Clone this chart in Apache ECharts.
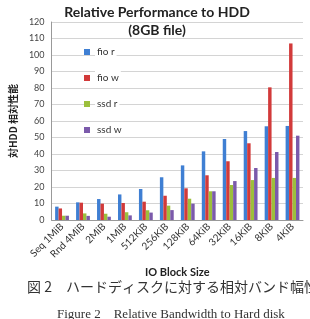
<!DOCTYPE html>
<html><head><meta charset="utf-8">
<script src="https://cdn.jsdelivr.net/npm/echarts@6/dist/echarts.min.js"></script>
<style>html,body{margin:0;padding:0;background:#fff}#c{width:310px;height:319px}</style>
</head><body><div id="c"></div>
<script>
const categories = ['Seq 1MiB','Rnd 4MiB','2MiB','1MiB','512KiB','256KiB','128KiB','64KiB','32KiB','16KiB','8KiB','4KiB'];
const fioR = [8.1, 10.7, 12.7, 15.5, 18.8, 25.9, 33.1, 41.6, 49.1, 53.9, 56.8, 57.0];
const fioW = [7.0, 10.5, 9.9, 10.3, 11.1, 14.7, 19.2, 27.1, 35.6, 46.5, 80.4, 107.0];
const ssdR = [2.6, 4.0, 3.8, 4.7, 5.9, 8.7, 12.9, 17.4, 21.2, 24.2, 25.5, 25.5];
const ssdW = [2.6, 2.5, 2.0, 2.8, 4.5, 6.0, 9.9, 17.4, 23.6, 31.5, 41.2, 51.1];
const yTicks = [0, 120, 10];
const seriesNames = ['fio r','fio w','ssd r','ssd w'];
const colors = ['#3f7fd3','#d23a3a','#9cbf3c','#7b5aab'];

const chart = echarts.init(document.getElementById('c'), null, {renderer:'canvas'});
const data = [fioR, fioW, ssdR, ssdW];
chart.setOption({
  animation:false,
  color: colors,
  textStyle:{fontFamily:'Lato, "Noto Sans CJK JP"'},
  title:{
    text:'Relative Performance to HDD\n(8GB file)',
    left:152, top:-2, textAlign:'center',
    textStyle:{fontSize:14, fontWeight:'bold', color:'#222', lineHeight:18, fontFamily:'Lato'}
  },
  legend:{
    orient:'vertical', left:79, top:40, itemWidth:6, itemHeight:6, itemGap:12,
    icon:'rect',
    textStyle:{fontSize:10, color:'#333', backgroundColor:'#fff', padding:[2,2]},
    data: seriesNames
  },
  grid:{left:42, right:7, top:22, bottom:99},
  xAxis:{
    type:'category', data:categories,
    axisLine:{lineStyle:{color:'#999'}},
    axisTick:{show:false},
    axisLabel:{rotate:45, fontSize:10, color:'#333', margin:5, interval:0},
    name:'IO Block Size', nameLocation:'middle', nameGap:45,
    nameTextStyle:{fontSize:11, fontWeight:'bold', color:'#222'}
  },
  yAxis:{
    type:'value', min:yTicks[0], max:yTicks[1], interval:yTicks[2],
    axisLine:{show:true, lineStyle:{color:'#999'}},
    axisTick:{show:false},
    splitLine:{lineStyle:{color:'#d4d4d4'}},
    axisLabel:{fontSize:9, color:'#444', margin:7},
    name:'対HDD 相対性能', nameLocation:'middle', nameRotate:90, nameGap:29,
    nameTextStyle:{fontSize:10, fontWeight:'bold', color:'#222', fontFamily:'"Noto Sans CJK JP"'}
  },
  series: seriesNames.map((n,i)=>({
    name:n, type:'bar', data:data[i], barGap:'0%', barCategoryGap:'34%'
  })),
  graphic:[
    {type:'text', left:27, top:280, style:{text:'図 2　ハードディスクに対する相対バンド幅性', fontSize:14, fill:'#333', fontFamily:'"Noto Sans CJK JP"'}},
    {type:'text', left:57, top:308, style:{text:'Figure 2　Relative Bandwidth to Hard disk', fontSize:13, fill:'#333', fontFamily:'"Liberation Serif"'}}
  ]
});
</script></body></html>
